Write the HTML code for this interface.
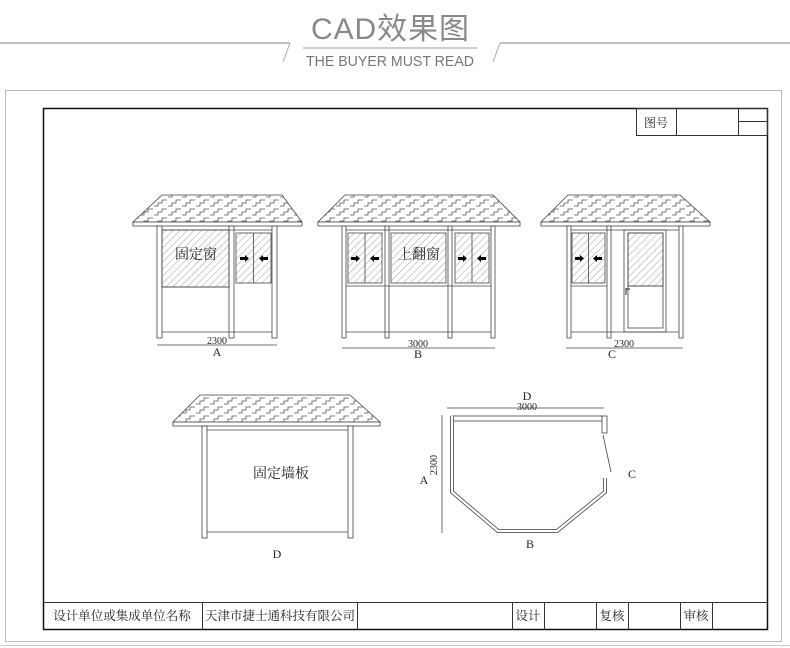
<!DOCTYPE html>
<html><head><meta charset="utf-8"><style>
html,body{margin:0;padding:0;background:#fff;}
svg{display:block;}
text{font-family:"Liberation Serif","Noto Serif CJK SC",serif;fill:#222;}
</style></head><body>
<svg width="790" height="648" viewBox="0 0 790 648" xmlns="http://www.w3.org/2000/svg">
<defs>
<pattern id="roof" width="14" height="9" patternUnits="userSpaceOnUse">
<path d="M0 8 h4 v-3 h4 v-3 h5" fill="none" stroke="#555" stroke-width="0.8"/>
</pattern>
<pattern id="hatch" width="5" height="5" patternUnits="userSpaceOnUse" patternTransform="rotate(45)">
<line x1="0" y1="0" x2="0" y2="5" stroke="#777" stroke-width="0.7"/>
</pattern>
</defs>
<line x1="0" y1="43" x2="290" y2="43" stroke="#aaa" stroke-width="1.5"/>
<line x1="290" y1="43" x2="283" y2="62" stroke="#aaa" stroke-width="1"/>
<line x1="500" y1="43" x2="790" y2="43" stroke="#aaa" stroke-width="1.5"/>
<line x1="500" y1="43" x2="493" y2="62" stroke="#aaa" stroke-width="1"/>
<text x="390" y="39" font-size="30" text-anchor="middle" style="font-family:'Liberation Sans','Noto Sans CJK SC',sans-serif;fill:#888" textLength="158">CAD效果图</text>
<line x1="303" y1="48" x2="477" y2="48" stroke="#999" stroke-width="1"/>
<text x="390" y="66" font-size="15" text-anchor="middle" style="font-family:'Liberation Sans',sans-serif;fill:#777" textLength="168" lengthAdjust="spacingAndGlyphs" transform="translate(390 0) scale(1 1) translate(-390 0)">THE BUYER MUST READ</text>
<rect x="5.5" y="90.5" width="776" height="551" fill="none" stroke="#bbb"/>
<rect x="43.5" y="108.5" width="724" height="521" fill="none" stroke="#111" stroke-width="1.5"/>
<rect x="636.5" y="108.5" width="131" height="27" fill="none" stroke="#333"/>
<line x1="676.5" y1="108" x2="676.5" y2="135" stroke="#333"/>
<line x1="738.5" y1="108" x2="738.5" y2="135" stroke="#333"/>
<line x1="738" y1="121.5" x2="768" y2="121.5" stroke="#333"/>
<text x="656" y="127" font-size="12" text-anchor="middle">图号</text>
<line x1="43" y1="602.5" x2="768" y2="602.5" stroke="#333"/>
<g stroke="#333"><line x1="202.5" y1="602" x2="202.5" y2="630"/><line x1="357.5" y1="602" x2="357.5" y2="630"/><line x1="512.5" y1="602" x2="512.5" y2="630"/><line x1="544.5" y1="602" x2="544.5" y2="630"/><line x1="596.5" y1="602" x2="596.5" y2="630"/><line x1="628.5" y1="602" x2="628.5" y2="630"/><line x1="680.5" y1="602" x2="680.5" y2="630"/><line x1="712.5" y1="602" x2="712.5" y2="630"/></g>
<text x="122" y="620" font-size="12.5" text-anchor="middle">设计单位或集成单位名称</text>
<text x="280" y="620" font-size="12.5" text-anchor="middle">天津市捷士通科技有限公司</text>
<text x="528" y="620" font-size="12.5" text-anchor="middle">设计</text>
<text x="612" y="620" font-size="12.5" text-anchor="middle">复核</text>
<text x="696" y="620" font-size="12.5" text-anchor="middle">审核</text>
<line x1="0" y1="645.5" x2="790" y2="645.5" stroke="#ccc"/>

<g fill="none" stroke="#444" stroke-width="0.8">
<path d="M162 195H282L302 222H133Z" fill="url(#roof)"/>
<rect x="133" y="222" width="169" height="4" fill="#fff"/>
<rect x="157" y="226" width="5" height="112" fill="#fff"/>
<rect x="229" y="226" width="5" height="112" fill="#fff"/>
<rect x="272" y="226" width="5" height="112" fill="#fff"/>
<line x1="162" y1="230" x2="272" y2="230"/>
<line x1="162" y1="332" x2="272" y2="332"/>
<rect x="162" y="230" width="67" height="57" fill="url(#hatch)"/>
<line x1="162" y1="287" x2="229" y2="287"/>
<rect x="236" y="233" width="35" height="50" fill="url(#hatch)"/>
<line x1="253.5" y1="233" x2="253.5" y2="283"/>
<line x1="157" y1="345" x2="277" y2="345"/>
<path d="M345 195H493L520 222H318Z" fill="url(#roof)"/>
<rect x="318" y="222" width="202" height="4" fill="#fff"/>
<rect x="342" y="226" width="4" height="112" fill="#fff"/>
<rect x="385" y="226" width="4" height="112" fill="#fff"/>
<rect x="448" y="226" width="4" height="112" fill="#fff"/>
<rect x="491" y="226" width="4" height="112" fill="#fff"/>
<line x1="346" y1="230" x2="491" y2="230"/>
<line x1="346" y1="332" x2="491" y2="332"/>
<line x1="346" y1="286" x2="491" y2="286"/>
<rect x="348" y="233" width="34" height="50" fill="url(#hatch)"/>
<line x1="365" y1="233" x2="365" y2="283"/>
<rect x="391" y="233" width="55" height="50" fill="url(#hatch)"/>
<rect x="455" y="233" width="34" height="50" fill="url(#hatch)"/>
<line x1="472" y1="233" x2="472" y2="283"/>
<line x1="342" y1="348" x2="495" y2="348"/>
<path d="M568 195H680L710 222H541Z" fill="url(#roof)"/>
<rect x="541" y="222" width="169" height="4" fill="#fff"/>
<rect x="567" y="226" width="4" height="112" fill="#fff"/>
<rect x="607" y="226" width="4" height="112" fill="#fff"/>
<rect x="679" y="226" width="4" height="112" fill="#fff"/>
<line x1="571" y1="230" x2="679" y2="230"/>
<line x1="571" y1="332" x2="679" y2="332"/>
<line x1="571" y1="286" x2="607" y2="286"/>
<rect x="572" y="233" width="33" height="50" fill="url(#hatch)"/>
<line x1="588.5" y1="233" x2="588.5" y2="283"/>
<rect x="624" y="230" width="42" height="102"/>
<rect x="628" y="233" width="35" height="95"/>
<rect x="628" y="233" width="35" height="53" fill="url(#hatch)"/>
<line x1="628" y1="286" x2="663" y2="286"/>
<path d="M626 288v7M626 289h4" stroke-width="1.2"/>
<line x1="566" y1="348" x2="683" y2="348"/>
<path d="M200 395H350L380 422H173Z" fill="url(#roof)"/>
<rect x="173" y="422" width="207" height="4" fill="#fff"/>
<rect x="202" y="426" width="5" height="112" fill="#fff"/>
<rect x="348" y="426" width="5" height="112" fill="#fff"/>
<line x1="207" y1="430" x2="348" y2="430"/>
<line x1="207" y1="532" x2="348" y2="532"/>
<line x1="447" y1="408" x2="604" y2="408"/>
<line x1="442" y1="415" x2="442" y2="533"/>
<rect x="452" y="416" width="150" height="5" fill="#fff"/>
<path d="M452 416V492L498 531H557L605 492V478" fill="none" stroke-width="4" stroke="#555"/>
<path d="M452 416V492L498 531H557L605 492V478" fill="none" stroke-width="2.2" stroke="#fff"/>
<rect x="602" y="416" width="5" height="17" fill="#fff"/>
<line x1="603" y1="435" x2="611" y2="472"/>
</g>
<g fill="#000">
<path d="M240 257h5v-2l4 3.5l-4 3.5v-2h-5z"/><path d="M268 257h-5v-2l-4 3.5l4 3.5v-2h5z"/>
<path d="M351 257h5v-2l4 3.5l-4 3.5v-2h-5z"/><path d="M379 257h-5v-2l-4 3.5l4 3.5v-2h5z"/>
<path d="M458 257h5v-2l4 3.5l-4 3.5v-2h-5z"/><path d="M486 257h-5v-2l-4 3.5l4 3.5v-2h5z"/>
<path d="M575 257h5v-2l4 3.5l-4 3.5v-2h-5z"/><path d="M602 257h-5v-2l-4 3.5l4 3.5v-2h5z"/>
</g>
<text x="196" y="259" font-size="14" text-anchor="middle">固定窗</text>
<text x="419" y="259" font-size="14" text-anchor="middle">上翻窗</text>
<text x="281" y="478" font-size="14" text-anchor="middle">固定墙板</text>
<g font-size="10" text-anchor="middle">
<text x="217" y="344">2300</text><text x="418" y="347">3000</text><text x="624" y="347">2300</text>
<text x="527" y="410">3000</text>
<text x="440" y="468" transform="rotate(-90 437 468)">2300</text>
</g>
<g font-size="12" text-anchor="middle">
<text x="217" y="356">A</text><text x="418" y="358">B</text><text x="612" y="358">C</text>
<text x="277" y="558">D</text><text x="527" y="400">D</text>
<text x="424" y="484">A</text><text x="530" y="548">B</text><text x="632" y="478">C</text>
</g>
</svg>
</body></html>
